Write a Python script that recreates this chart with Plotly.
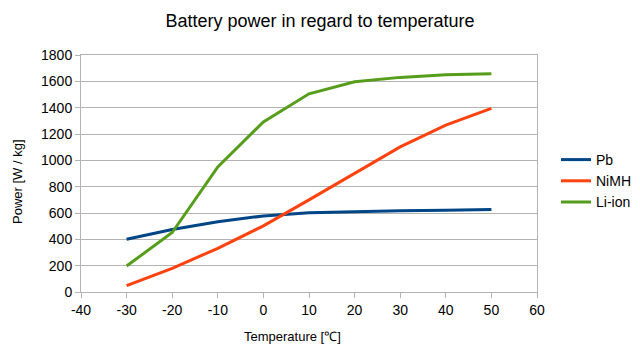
import plotly.graph_objects as go

temps = [-30, -20, -10, 0, 10, 20, 30, 40, 50]
pb = [400, 475, 533, 578, 602, 610, 618, 620, 627]
nimh = [48, 180, 332, 502, 700, 900, 1102, 1268, 1395]
liion = [197, 452, 950, 1292, 1505, 1597, 1630, 1650, 1658]

x_ticks = [-40, -30, -20, -10, 0, 10, 20, 30, 40, 50, 60]
x_tick_labels = ["-40", "-30", "-20", "-10", "0", "10", "20", "30", "40", "50", "60"]

series = [("Pb", pb, "#004586"), ("NiMH", nimh, "#ff420e"), ("Li-ion", liion, "#579d1c")]

FONT = "Liberation Sans, Arial, sans-serif"

fig = go.Figure()
for name, vals, color in series:
    fig.add_trace(go.Scatter(x=temps, y=vals, name=name, mode="lines",
                             line=dict(color=color, width=3)))

# page has 8px body margin, so figure is 624x347 placed at (8,8)
W, H = 624, 347
fig.update_layout(
    width=W, height=H,
    margin=dict(l=73, r=W - 73 - 456, t=47, b=H - 47 - 237, autoexpand=False),
    paper_bgcolor="white", plot_bgcolor="white",
    font=dict(family=FONT, size=14, color="#000000"),
    title=dict(text="Battery power in regard to temperature", x=(320 - 8) / W, xanchor="center",
               y=1 - 13 / H, yanchor="middle", font=dict(size=18, family=FONT)),
    showlegend=True,
    legend=dict(x=(556 - 81) / 456, xref="paper", xanchor="left", y=(292 - 181) / 237,
                yanchor="middle", font=dict(size=14, family=FONT), tracegroupgap=0,
                itemwidth=30, bgcolor="rgba(0,0,0,0)"),
    xaxis=dict(range=[-40, 60], tickvals=x_ticks, ticktext=x_tick_labels, showgrid=False,
               zeroline=False, showline=True, linecolor="#b3b3b3", linewidth=1, mirror=True,
               ticks="outside", ticklen=5, tickcolor="#b3b3b3",
               tickfont=dict(size=14, family=FONT)),
    yaxis=dict(range=[0, 1800], dtick=200, showgrid=True, gridcolor="#b3b3b3", gridwidth=1,
               zeroline=False, showline=True, linecolor="#b3b3b3", linewidth=1, mirror=True,
               ticks="outside", ticklen=5, tickcolor="#b3b3b3",
               tickfont=dict(size=14, family=FONT)),
    annotations=[
        dict(text="Temperature [℃]", xref="paper", yref="paper", x=(292 - 81) / 456,
             y=-(336 - 292) / 237, xanchor="center", yanchor="middle", showarrow=False,
             font=dict(size=13, family=FONT)),
        dict(text="Power [W / kg]", xref="paper", yref="paper", x=-(81 - 17) / 456,
             y=(292 - 182) / 237, xanchor="center", yanchor="middle", textangle=-90,
             showarrow=False, font=dict(size=13, family=FONT)),
    ],
)

fig.write_html("out.html")
